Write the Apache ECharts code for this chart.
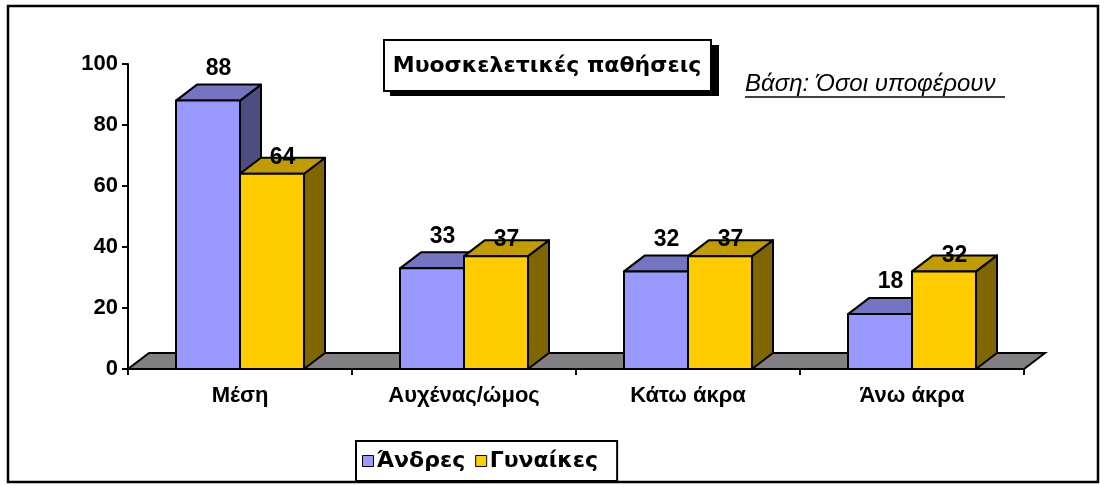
<!DOCTYPE html>
<html>
<head>
<meta charset="utf-8">
<script src="https://cdn.jsdelivr.net/npm/echarts@6/dist/echarts.min.js"></script>
<style>
  html, body { margin: 0; padding: 0; background: #fff; }
  #chart { width: 1107px; height: 485px; }
</style>
</head>
<body>
<div id="chart"></div>
<script>
const categories = ['Μέση', 'Αυχένας/ώμος', 'Κάτω άκρα', 'Άνω άκρα']
const men = [88, 33, 32, 18]
const women = [64, 37, 37, 32]
const seriesNames = ['Άνδρες', 'Γυναίκες']
const yTicks = [0, 20, 40, 60, 80, 100]

// 3d look: depth offset of the top / side faces
const DX = 21
const DY = -16
const BAR_FRAC = 0.2857

const chart = echarts.init(document.getElementById('chart'))

function bar3d(side, faces, lift) {
    return function (params, api) {
        const cat = api.value(0)
        const top = api.coord([cat, api.value(1)])
        const base = api.coord([cat, 0])
        const w = api.size([1, 0])[0] * BAR_FRAC
        const x0 = side === 'left' ? top[0] - w : top[0]
        const y = top[1]
        const b = base[1]
        const line = { stroke: '#000', lineWidth: 2, lineJoin: 'round' }
        return {
            type: 'group',
            children: [
                {
                    type: 'polygon',
                    shape: { points: [[x0 + w, y], [x0 + w + DX, y + DY], [x0 + w + DX, b + DY], [x0 + w, b]] },
                    style: Object.assign({ fill: faces[2] }, line)
                },
                {
                    type: 'polygon',
                    shape: { points: [[x0, y], [x0 + w, y], [x0 + w + DX, y + DY], [x0 + DX, y + DY]] },
                    style: Object.assign({ fill: faces[1] }, line)
                },
                {
                    type: 'rect',
                    shape: { x: x0, y: y, width: w, height: b - y },
                    style: Object.assign({ fill: faces[0] }, line)
                },
                {
                    type: 'text',
                    x: x0 + w / 2 + DX / 2,
                    y: y + DY - lift,
                    style: {
                        text: String(api.value(1)),
                        fill: '#000',
                        font: 'bold 23px "Liberation Sans", Arial, sans-serif',
                        align: 'center',
                        verticalAlign: 'middle'
                    }
                }
            ]
        }
    }
}

function floor(params, api) {
    const cs = params.coordSys
    const yb = cs.y + cs.height
    return {
        type: 'polygon',
        shape: { points: [[cs.x, yb], [cs.x + cs.width, yb], [cs.x + cs.width + DX, yb + DY], [cs.x + DX, yb + DY]] },
        style: { fill: '#808080', stroke: '#000', lineWidth: 2 }
    }
}

const option = {
    animation: false,
    backgroundColor: '#fff',
    textStyle: { fontFamily: '"Liberation Sans", Arial, sans-serif' },
    grid: { left: 128, top: 64, width: 896, height: 305 },
    legend: {
        data: seriesNames,
        left: 356,
        top: 441,
        padding: [9, 19, 9, 6],
        itemGap: 10,
        itemWidth: 11,
        itemHeight: 11,
        icon: 'rect',
        borderColor: '#000',
        borderWidth: 2,
        backgroundColor: '#fff',
        itemStyle: { borderColor: '#000', borderWidth: 1 },
        textStyle: { fontFamily: '"DejaVu Sans", sans-serif', fontWeight: 'bold', fontSize: 22, color: '#000', padding: [0, 0, 0, -2] }
    },
    graphic: [
        { type: 'rect', z: -10, shape: { x: 8, y: 6, width: 1090, height: 476 }, style: { fill: 'none', stroke: '#000', lineWidth: 2.5 } },
        { type: 'rect', shape: { x: 390, y: 45, width: 329, height: 51 }, style: { fill: '#000' } },
        { type: 'rect', shape: { x: 384, y: 40, width: 327, height: 51 }, style: { fill: '#fff', stroke: '#000', lineWidth: 2 } },
        {
            type: 'text', x: 547, y: 66,
            style: { text: 'Μυοσκελετικές παθήσεις', fill: '#000', font: 'bold 22px "DejaVu Sans", sans-serif', align: 'center', verticalAlign: 'middle' }
        },
        {
            type: 'text', x: 745, y: 84,
            style: { text: 'Βάση: Όσοι υποφέρουν', fill: '#000', font: 'italic 24px "Liberation Sans", Arial, sans-serif', align: 'left', verticalAlign: 'middle' }
        },
        { type: 'line', shape: { x1: 745, y1: 97, x2: 1005, y2: 97 }, style: { stroke: '#000', lineWidth: 1.5 } }
    ],
    xAxis: {
        type: 'category',
        data: categories,
        axisLine: { show: true, lineStyle: { color: '#000', width: 2 } },
        axisTick: { show: true, length: 6, lineStyle: { color: '#000', width: 2 } },
        axisLabel: { color: '#000', fontWeight: 'bold', fontSize: 22, margin: 16 },
        splitLine: { show: false }
    },
    yAxis: {
        type: 'value',
        min: yTicks[0],
        max: yTicks[yTicks.length - 1],
        interval: yTicks[1] - yTicks[0],
        axisLine: { show: true, lineStyle: { color: '#000', width: 2 } },
        axisTick: { show: true, length: 6, lineStyle: { color: '#000', width: 2 } },
        axisLabel: { color: '#000', fontWeight: 'bold', fontSize: 22, margin: 10 },
        splitLine: { show: false }
    },
    series: [
        {
            name: 'floor',
            type: 'custom',
            silent: true,
            z: 1,
            renderItem: floor,
            data: [[0, 0]],
            encode: { x: 0, y: 1 }
        },
        {
            name: seriesNames[0],
            type: 'custom',
            z: 2,
            itemStyle: { color: '#9999FF' },
            renderItem: bar3d('left', ['#9999FF', '#7474C2', '#4D4D80'], 16),
            data: men.map((v, i) => [i, v]),
            encode: { x: 0, y: 1 }
        },
        {
            name: seriesNames[1],
            type: 'custom',
            z: 2,
            itemStyle: { color: '#FFCC00' },
            renderItem: bar3d('right', ['#FFCC00', '#C29B00', '#806600'], 0),
            data: women.map((v, i) => [i, v]),
            encode: { x: 0, y: 1 }
        }
    ]
}

chart.setOption(option)
</script>
</body>
</html>
